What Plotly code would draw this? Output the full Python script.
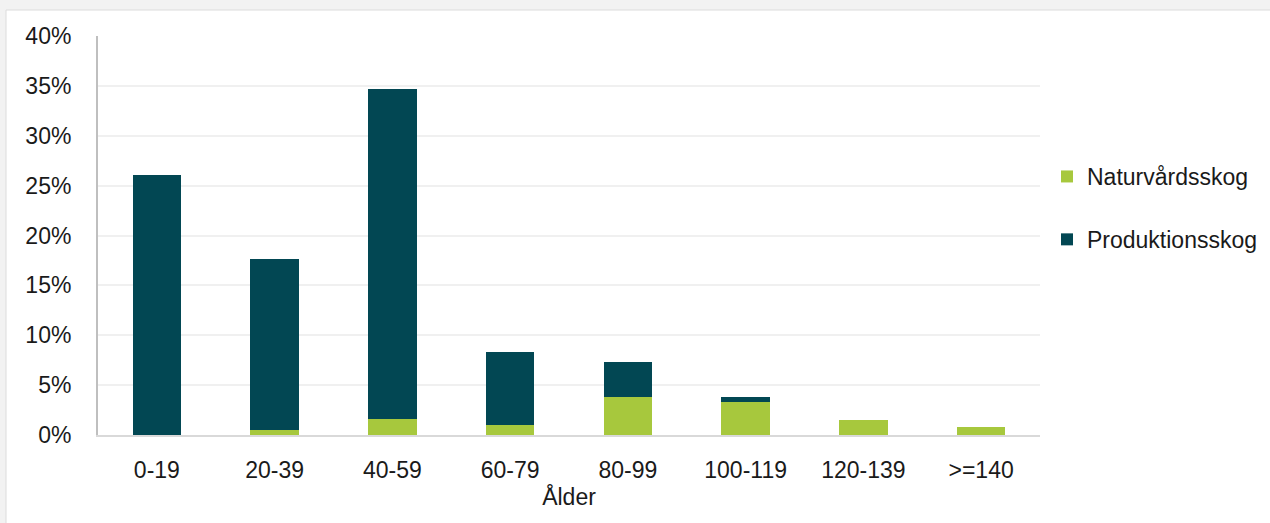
import plotly.graph_objects as go

categories = ["0-19", "20-39", "40-59", "60-79", "80-99", "100-119", "120-139", ">=140"]
naturvard = [0.05, 0.5, 1.6, 1.0, 3.8, 3.3, 1.5, 0.83]
produktion = [26.0, 17.1, 33.1, 7.3, 3.5, 0.5, 0.0, 0.0]
y_ticks = [0, 5, 10, 15, 20, 25, 30, 35, 40]
y_ticktext = [f"{v}%" for v in y_ticks]

GREEN = "#a7c83d"
TEAL = "#024753"
FONT = "Liberation Sans, Arial, sans-serif"
FS = 23

fig = go.Figure()
fig.add_trace(go.Bar(x=categories, y=naturvard, name="Naturvårdsskog",
                     marker=dict(color=GREEN, line=dict(width=0)),
                     width=0.41, legendgroup="a"))
fig.add_trace(go.Bar(x=categories, y=produktion, name="Produktionsskog",
                     marker=dict(color=TEAL, line=dict(width=0)),
                     width=0.41, legendgroup="b"))

L, R, T, B = 98, 230, 36, 88
W, H = 1270, 523
pw, ph = W - L - R, H - T - B

fig.update_layout(
    width=W, height=H,
    barmode="stack",
    margin=dict(l=L, r=R, t=T, b=B, pad=0, autoexpand=False),
    paper_bgcolor="#f2f2f2",
    plot_bgcolor="white",
    font=dict(family=FONT, size=FS, color="#1a1a1a"),
    showlegend=True,
    legend=dict(x=(1047 - L) / pw, xanchor="left", y=(435 - 155) / ph, yanchor="top",
                traceorder="grouped", tracegroupgap=30,
                font=dict(size=FS, family=FONT, color="#1a1a1a"),
                bgcolor="rgba(0,0,0,0)", itemwidth=30),
    xaxis=dict(showgrid=False, showline=True, linecolor="#d9d9d9", linewidth=2,
               ticks="", ticklabelstandoff=13,
               title=dict(text="Ålder", standoff=7, font=dict(size=FS))),
    yaxis=dict(range=[0, 40], tickvals=y_ticks, ticktext=y_ticktext,
               showgrid=True, gridcolor="#f0f0f0", gridwidth=2,
               showline=True, linecolor="#bfbfbf", linewidth=2,
               zeroline=False, ticks="", ticklabelstandoff=20),
    shapes=[dict(type="rect", xref="paper", yref="paper",
                 x0=(6 - L) / pw, x1=(W + 10 - L) / pw,
                 y0=(435 - (H + 10)) / ph, y1=(435 - 10) / ph,
                 fillcolor="white", line=dict(color="#dcdcdc", width=1),
                 layer="below")],
)

fig.write_html("out.html", config={"displayModeBar": False},
               post_script="document.body.style.margin='0';")
